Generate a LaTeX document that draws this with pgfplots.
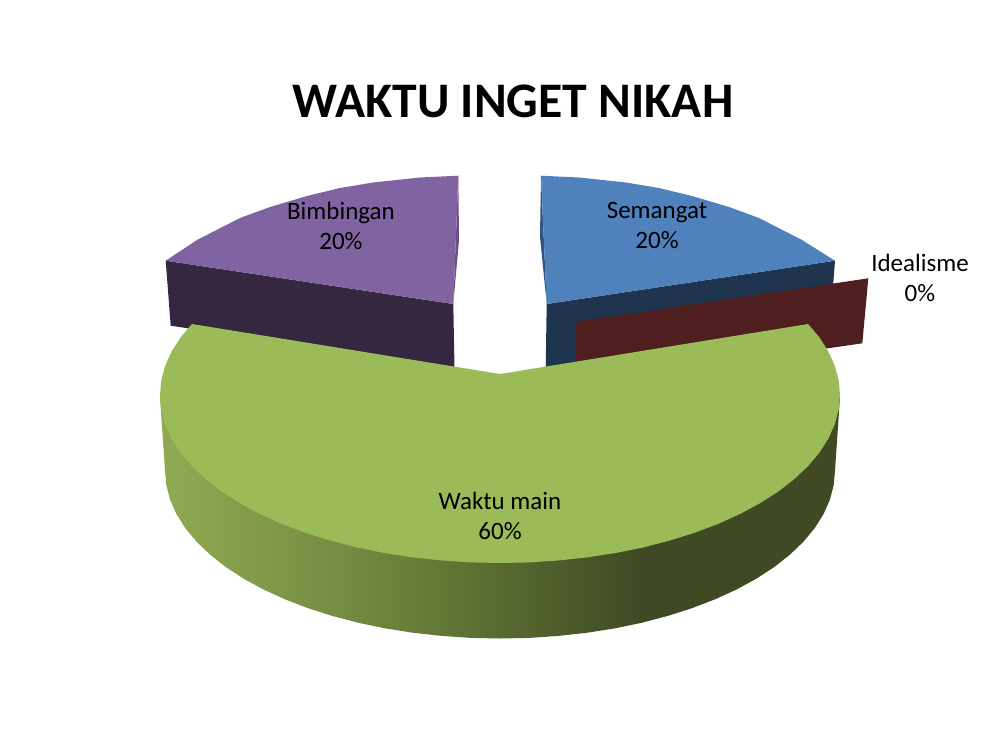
\documentclass[border=0pt]{standalone}
\usepackage{fontspec}
\setmainfont{Carlito}
\usepackage{pgfplots}
\pgfplotsset{compat=1.18}
\definecolor{gtop}{HTML}{9BBB59}
\definecolor{btop}{HTML}{4F81BD}
\definecolor{ptop}{HTML}{8064A2}
\definecolor{pside}{HTML}{35273F}
\definecolor{psliver}{HTML}{6A5088}
\definecolor{bside}{HTML}{1F344F}
\definecolor{bsliver}{HTML}{2F5580}
\definecolor{rside}{HTML}{4F1F1F}
\definecolor{ga}{HTML}{8FAB52}
\definecolor{gb}{HTML}{7C9346}
\definecolor{gc}{HTML}{6A8039}
\definecolor{gd}{HTML}{586A30}
\definecolor{ge}{HTML}{3F4A24}
\pgfdeclarehorizontalshading{greenside}{100bp}{
color(0bp)=(ga);
color(25bp)=(ga);
color(35.3bp)=(gb);
color(43bp)=(gc);
color(50bp)=(gd);
color(60.3bp)=(ge);
color(75bp)=(ge);
color(100bp)=(ge)}
\pgfplotsset{poly/.style={draw=none,no markers,line width=0pt}}
\begin{document}
\begin{tikzpicture}
\begin{axis}[
  scale only axis,width=1000pt,height=750pt,
  xmin=0,xmax=1000,ymin=0,ymax=750,y dir=reverse,
  hide axis,clip=false]
\path[fill=white] (rel axis cs:0,0) rectangle (rel axis cs:1,1);
% purple slice
\addplot[poly,fill=pside] coordinates {(165.7,260.7)(170.7,325.7)(454.5,368)(453.3,304)};
\addplot[poly,fill=psliver] coordinates {(458.3,175.7)(459,240)(453.3,304)};
\addplot[poly,fill=ptop] coordinates {(458.3,175.7)(420,177.5)(373,182.5)(340,188)(307,196)(270,207)(240,218)(197,240)(165.7,260.7)(453.3,304)};
% blue slice
\addplot[poly,fill=bside] coordinates {(835,260.7)(830,326)(545.7,368)(546.7,304)};
\addplot[poly,fill=bsliver] coordinates {(541,175.7)(540,237)(546.7,304)};
\addplot[poly,fill=btop] coordinates {(541,175.7)(579,177.5)(626,182.5)(659,188)(692,196)(729,207)(759,218)(802,240)(835,260.7)(546.7,304)};
% red slice
\addplot[poly,fill=rside] coordinates {(576,321.7)(868.3,278.3)(862.3,343.3)(575,385)};
% green side
\addplot[poly,shade,shading=greenside] coordinates {(160,395)(160.2,400)(165,470.5)(166.3,485.1)(170.1,499.7)(176.4,514)(185.2,528)(196.4,541.5)(209.9,554.5)(225.6,566.9)(243.4,578.5)(263.1,589.3)(284.7,599.2)(307.8,608.1)(332.5,616)(358.4,622.8)(385.4,628.4)(413.3,632.8)(441.8,635.9)(470.8,637.9)(500,638.5)
(529.2,637.9)(558.2,635.9)(586.7,632.8)(614.6,628.4)(641.6,622.8)(667.5,616)(692.2,608.1)(715.3,599.2)(736.9,589.3)(756.6,578.5)(774.4,566.9)(790.1,554.5)(803.6,541.5)(814.8,528)(823.6,514)(829.9,499.7)(833.7,485.1)(835,470.5)(839.8,400)(840,395)};
% green top
\addplot[poly,fill=gtop] coordinates {
(191.9,324)(180.5,337.5)(171.6,351.5)(165.2,365.8)(161.3,380.4)(160,395)(161.3,409.6)(165.2,424.2)(171.6,438.5)(180.5,452.5)(191.9,466)(205.6,479)(221.5,491.4)(239.6,503)(259.6,513.8)(281.4,523.7)(305,532.6)(330,540.5)(356.3,547.3)(383.7,552.9)(412,557.3)(441,560.4)(470.4,562.4)(500,563)
(529.6,562.4)(559,560.4)(588,557.3)(616.3,552.9)(643.7,547.3)(670,540.5)(695,532.6)(718.6,523.7)(740.4,513.8)(760.4,503)(778.5,491.4)(794.4,479)(808.1,466)(819.5,452.5)(828.4,438.5)(834.8,424.2)(838.7,409.6)(840,395)(838.7,380.4)(834.8,365.8)(828.4,351.5)(819.5,337.5)(808.1,324)(500,374)};
% texts
\node[font=\bfseries\fontsize{49.7}{50}\selectfont,text=black] at (axis cs:513,101) {WAKTU INGET NIKAH};
\node[font=\fontsize{25}{30}\selectfont,align=center,text=black] at (axis cs:341,226) {Bimbingan\\20\%};
\node[font=\fontsize{25}{30}\selectfont,align=center,text=black] at (axis cs:657,225) {Semangat\\20\%};
\node[font=\fontsize{25}{30}\selectfont,align=center,text=black] at (axis cs:920,278) {Idealisme\\0\%};
\node[font=\fontsize{25}{30}\selectfont,align=center,text=black] at (axis cs:500,516) {Waktu main\\60\%};
\end{axis}
\end{tikzpicture}
\end{document}
